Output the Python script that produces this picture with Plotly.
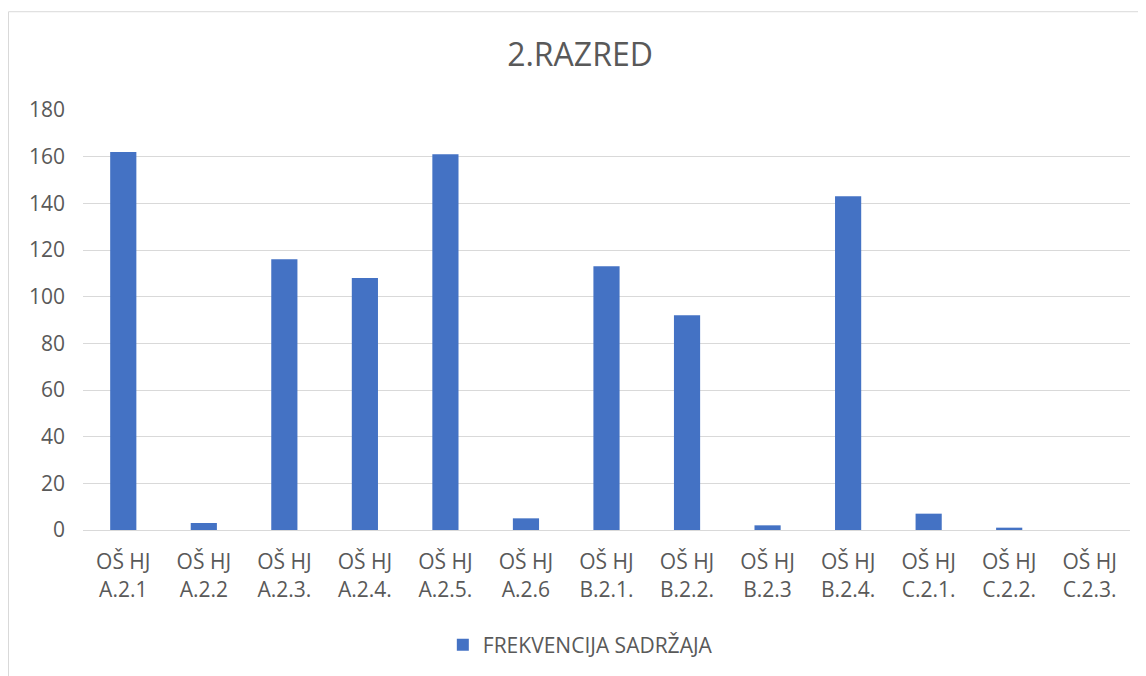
import plotly.graph_objects as go

categories = ["OŠ HJ<br>A.2.1", "OŠ HJ<br>A.2.2", "OŠ HJ<br>A.2.3.", "OŠ HJ<br>A.2.4.",
              "OŠ HJ<br>A.2.5.", "OŠ HJ<br>A.2.6", "OŠ HJ<br>B.2.1.", "OŠ HJ<br>B.2.2.",
              "OŠ HJ<br>B.2.3", "OŠ HJ<br>B.2.4.", "OŠ HJ<br>C.2.1.", "OŠ HJ<br>C.2.2.",
              "OŠ HJ<br>C.2.3."]
values = [162, 3, 116, 108, 161, 5, 113, 92, 2, 143, 7, 1, 0]
series_name = "FREKVENCIJA SADRŽAJA"
title_text = "2.RAZRED"
y_ticks = [0, 20, 40, 60, 80, 100, 120, 140, 160, 180]

FONT = "Open Sans"
TEXT = "#595959"
GRID = "#D9D9D9"

W, H = 1138, 668
L, T, R, B = 75, 102, 16, 145
PW = W - L - R
PH = H - T - B

fig = go.Figure()
fig.add_trace(go.Bar(x=categories, y=values, name=series_name,
                     marker=dict(color="#4472C4", line=dict(width=0))))

fig.update_layout(
    width=W, height=H,
    margin=dict(l=L, r=R, t=T, b=B),
    paper_bgcolor="white", plot_bgcolor="white",
    font=dict(family=FONT, color=TEXT, size=21),
    bargap=0.675,
    showlegend=True,
    title=dict(text=title_text, x=(580 - 8) / W, xref="container", xanchor="center",
               y=1 - (55 - 8) / H, yref="container", yanchor="middle",
               font=dict(family=FONT, size=32, color=TEXT)),
    legend=dict(orientation="h", x=0.475, xanchor="center", y=-0.271, yanchor="middle",
                font=dict(family=FONT, size=21, color=TEXT), bgcolor="rgba(0,0,0,0)"),
    xaxis=dict(showgrid=False, showline=True, linecolor=GRID, linewidth=1,
               ticks="", tickfont=dict(family=FONT, size=21, color=TEXT), tickangle=0,
               ticklabelstandoff=13),
    yaxis=dict(range=[0, 180], tickvals=y_ticks, showgrid=True, gridcolor=GRID, gridwidth=1,
               zeroline=False, showline=False, ticks="",
               tickfont=dict(family=FONT, size=21, color=TEXT), ticklabelstandoff=17),
    shapes=[dict(type="rect", xref="paper", yref="paper",
                 x0=(0.5 - L) / PW, x1=1.05, y0=-0.5, y1=1 + (T - 3.5) / PH,
                 line=dict(color="#D9D9D9", width=1), fillcolor="rgba(0,0,0,0)", layer="below")],
)

fig.write_html("out.html")
